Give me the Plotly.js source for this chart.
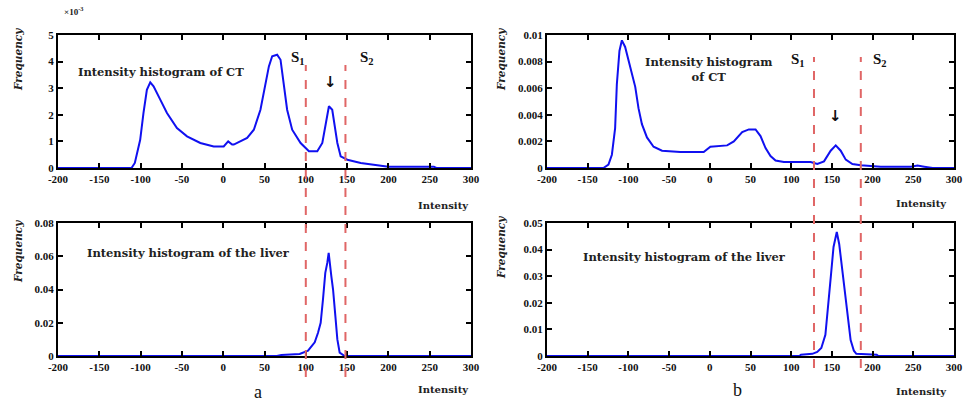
<!DOCTYPE html>
<html><head><meta charset="utf-8">
<script src="https://cdn.plot.ly/plotly-3.0.1.min.js"></script>
<style>html,body{margin:0;padding:0;background:#fff}#c{width:969px;height:405px}</style>
</head><body><div id="c"></div>
<script>
// ---- data ----
const xTicks = [-200,-150,-100,-50,0,50,100,150,200,250,300];
const xTickText = ["-200","-150","-100","-50","0","50","100","150","200","250","300"];

// (a) CT histogram, values in units of 1e-3
const ctA_x = [-200,-150,-111,-107,-100.5,-96.5,-92.4,-88.3,-84.3,-76.2,-68.1,-56,-43.8,-27.7,-11.5,0.6,6,10.8,12.8,29,37.1,45.1,51.2,55.3,59.3,65.3,69.4,73.4,77.4,83.5,93.7,103.8,113.9,120,124,128,132,135.3,138.2,142.2,150.3,166.5,186.8,200,230,255,258,300];
const ctA_y = [0,0,0,0.19,1.06,2.07,2.94,3.22,3.07,2.57,2.07,1.5,1.19,0.94,0.81,0.81,1.0,0.88,0.88,1.13,1.44,2.19,3.2,3.82,4.2,4.26,4.07,3.2,2.19,1.44,0.94,0.63,0.63,0.94,1.69,2.32,2.19,1.57,0.94,0.44,0.31,0.19,0.1,0.05,0.05,0.05,0,0];

// (a) liver histogram
const lvA_x = [-200,65,70.4,92.6,102.7,110.8,114.8,118,120.8,123.6,126,127.7,130.9,133,135.8,138.2,141,147,300];
const lvA_y = [0,0,0.0006,0.0012,0.0032,0.0082,0.014,0.020,0.034,0.05,0.056,0.062,0.048,0.040,0.024,0.010,0.002,0,0];

// (b) CT histogram
const ctB_x = [-200,-130.7,-124.5,-120.3,-116.3,-114.2,-111,-108,-104,-99.9,-95.8,-91.6,-87.6,-83.4,-77.2,-69.1,-58.7,-36.2,-7.5,0.7,21.3,29.5,39.8,48,56.2,62.3,68.5,74.6,80.8,91,123.9,132.1,140.3,148.5,154.7,160.8,167,175.2,185.5,210,247,255.2,263.4,273.7,300];
const ctB_y = [0,0,0.00025,0.001,0.003,0.0063,0.0088,0.0096,0.0091,0.0081,0.0072,0.0061,0.0045,0.0033,0.0023,0.0016,0.0013,0.0012,0.0012,0.0016,0.0017,0.002,0.0027,0.0029,0.0029,0.0024,0.0015,0.0009,0.00056,0.00045,0.00045,0.0003,0.0005,0.0013,0.0017,0.0013,0.00063,0.0003,0.0002,0.0001,0.0001,0.00018,0.0001,0,0];

// (b) liver histogram
const lvB_x = [-200,110,112,126,132,137,142,146,149,152,156,159,163,167,170,173,177,180,205,207,300];
const lvB_y = [0,0,0.0005,0.0008,0.0015,0.003,0.008,0.02,0.031,0.041,0.0466,0.042,0.031,0.0206,0.012,0.006,0.002,0.0008,0.0005,0,0];

// thresholds
const thrA = {S1: 100, S2: 148};
const thrB = {S1: 128, S2: 185.5};

const yTicksA1 = [0,1,2,3,4,5];
const yTicksA2 = [0,0.02,0.04,0.06,0.08];
const yTextA2 = ["0","0.02","0.04","0.06","0.08"];
const yTicksB1 = [0,0.002,0.004,0.006,0.008,0.01];
const yTextB1 = ["0","0.002","0.004","0.006","0.008","0.01"];
const yTicksB2 = [0,0.01,0.02,0.03,0.04,0.05];
const yTextB2 = ["0","0.01","0.02","0.03","0.04","0.05"];

// ---- layout helpers ----
const W = 969, H = 405;
const px = x => x / W, py = y => 1 - y / H;
const FF = "Liberation Serif";
const DF = "DejaVu Serif";
const tickF = {family: FF, size: 11, color: "#111", weight: "bold"};
const blue = "#1010f0";

function ax(extra) {
  return Object.assign({
    showline: true, linecolor: "#000", linewidth: 2, mirror: "ticks",
    ticks: "inside", ticklen: 5, tickwidth: 2, tickcolor: "#000",
    showgrid: false, zeroline: false, tickfont: tickF, fixedrange: true
  }, extra);
}
function xa(dom, anchor) {
  return ax({domain: dom, anchor: anchor, range: [-200, 300], tickvals: xTicks, ticktext: xTickText});
}

const colL = [px(58), px(471)], colR = [px(547), px(954)];
const rowT = [py(168), py(35)], rowB = [py(356), py(223)];

const tr = (x, y, xa_, ya_) => ({x: x, y: y, xaxis: xa_, yaxis: ya_, type: "scatter", mode: "lines",
  line: {color: blue, width: 2}, hoverinfo: "skip", showlegend: false});

const data = [
  tr(ctA_x, ctA_y, "x", "y"),
  tr(lvA_x, lvA_y, "x3", "y3"),
  tr(ctB_x, ctB_y, "x2", "y2"),
  tr(lvB_x, lvB_y, "x4", "y4")
];

const dashed = (xref, xv, y0, y1) => ({type: "line", xref: xref, yref: "paper", x0: xv, x1: xv,
  y0: py(y1), y1: py(y0), line: {color: "#e06666", width: 2, dash: "dash"}});

const f = (size, fam, extra) => Object.assign({family: fam || DF, size: size, color: "#222", weight: "bold"}, extra || {});
const ann = (t, x, y, o) => Object.assign({text: t, x: px(x), y: py(y), xref: "paper", yref: "paper",
  showarrow: false, xanchor: "center", yanchor: "middle", font: f(11.5)}, o || {});

const annotations = [
  ann("×10<sup>-3</sup>", 62, 11, {xanchor: "left", font: f(9, FF)}),
  ann("Frequency", 18, 60, {textangle: -90, font: f(10.5, DF, {style: "italic"})}),
  ann("Frequency", 18, 252, {textangle: -90, font: f(10.5, DF, {style: "italic"})}),
  ann("Frequency", 501, 60, {textangle: -90, font: f(10.5, DF, {style: "italic"})}),
  ann("Frequency", 501, 248, {textangle: -90, font: f(10.5, DF, {style: "italic"})}),
  ann("Intensity", 443, 205, {font: f(10)}),
  ann("Intensity", 443, 389, {font: f(10)}),
  ann("Intensity", 921, 204, {font: f(10)}),
  ann("Intensity", 921, 391, {font: f(10)}),
  ann("a", 258, 392, {font: {family: FF, size: 18, color: "#111"}}),
  ann("b", 737, 390, {font: {family: FF, size: 18, color: "#111"}}),
  ann("S<sub>1</sub>", 298, 58, {font: f(15, FF, {color: "#111"})}),
  ann("S<sub>2</sub>", 367, 58, {font: f(15, FF, {color: "#111"})}),
  ann("S<sub>1</sub>", 798, 60, {font: f(15, FF, {color: "#111"})}),
  ann("S<sub>2</sub>", 880, 60, {font: f(15, FF, {color: "#111"})}),
  ann("↓", 330, 82, {font: {family: "DejaVu Sans", size: 15, color: "#111", weight: "bold"}}),
  ann("↓", 835, 116, {font: {family: "DejaVu Sans", size: 15, color: "#111", weight: "bold"}}),
  ann("Intensity histogram of CT", 161, 72),
  ann("Intensity histogram<br>of CT", 708, 69),
  ann("Intensity histogram of the liver", 188, 253),
  ann("Intensity histogram of the liver", 684, 257)
];

const layout = {
  width: W, height: H, margin: {l: 0, r: 0, t: 0, b: 0},
  paper_bgcolor: "#fff", plot_bgcolor: "#fff", showlegend: false,
  xaxis: xa(colL, "y"), yaxis: ax({domain: rowT, anchor: "x", range: [0, 5], tickvals: yTicksA1}),
  xaxis2: xa(colR, "y2"), yaxis2: ax({domain: rowT, anchor: "x2", range: [0, 0.01], tickvals: yTicksB1, ticktext: yTextB1}),
  xaxis3: xa(colL, "y3"), yaxis3: ax({domain: rowB, anchor: "x3", range: [0, 0.08], tickvals: yTicksA2, ticktext: yTextA2}),
  xaxis4: xa(colR, "y4"), yaxis4: ax({domain: rowB, anchor: "x4", range: [0, 0.05], tickvals: yTicksB2, ticktext: yTextB2}),
  shapes: [
    dashed("x", thrA.S1, 65, 377), dashed("x", thrA.S2, 65, 377),
    dashed("x2", thrB.S1, 57, 368), dashed("x2", thrB.S2, 57, 368)
  ],
  annotations: annotations
};

Plotly.newPlot("c", data, layout, {staticPlot: true, displayModeBar: false});
</script></body></html>
